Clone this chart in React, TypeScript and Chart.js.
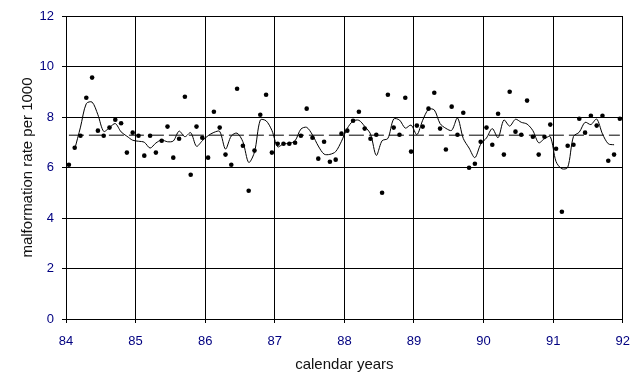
import React, { useEffect, useRef } from 'react';
import { Chart, registerables } from 'chart.js';

Chart.register(...registerables);

// ---- data ----
const START_YEAR = 84;
const END_YEAR = 92;
const X_TICK_LABELS = ['84', '85', '86', '87', '88', '89', '90', '91', '92'];
const Y_MIN = 0;
const Y_MAX = 12;
const Y_STEP = 2;

// monthly malformation rate per 1000, Jan 1984 .. Dec 1991
const MONTHLY_RATES = [
  6.11, 6.78, 7.26, 8.76, 9.56, 7.46, 7.26, 7.58, 7.89, 7.75, 6.59, 7.38,
  7.26, 6.47, 7.26, 6.59, 7.06, 7.62, 6.39, 7.14, 8.80, 5.71, 7.62, 7.18,
  6.39, 8.21, 7.58, 6.51, 6.11, 9.12, 6.86, 5.08, 6.67, 8.09, 8.88, 6.59,
  6.94, 6.94, 6.94, 6.98, 7.26, 8.33, 7.18, 6.35, 7.02, 6.23, 6.31, 7.34,
  7.46, 7.85, 8.21, 7.54, 7.14, 7.30, 5.00, 8.88, 7.58, 7.30, 8.76, 6.63,
  7.66, 7.62, 8.33, 8.96, 7.54, 6.71, 8.41, 7.30, 8.17, 5.99, 6.15, 7.02,
  7.58, 6.90, 8.13, 6.51, 9.00, 7.42, 7.30, 8.65, 7.22, 6.51, 7.22, 7.70,
  6.74, 4.25, 6.86, 6.90, 7.93, 7.38, 8.05, 7.66, 8.05, 6.27, 6.51, 7.93,
];

// smoothed curve (as drawn), same months; blank at both ends
const SMOOTHED_RATES = [
  null, 6.72, 7.60, 8.53, 8.59, 8.09, 7.43, 7.58, 7.74, 7.41, 7.24, 7.08,
  7.04, 7.00, 6.77, 6.97, 7.09, 7.02, 7.05, 7.44, 7.22, 7.38, 6.84, 7.06,
  7.26, 7.39, 7.43, 6.73, 7.25, 7.36, 7.02, 6.20, 6.61, 7.88, 7.85, 7.47,
  6.82, 6.94, 6.95, 7.06, 7.52, 7.59, 7.29, 6.85, 6.53, 6.52, 6.63, 7.04,
  7.55, 7.84, 7.87, 7.63, 7.33, 6.48, 7.06, 7.15, 7.92, 7.88, 7.56, 7.68,
  7.30, 7.87, 8.30, 8.28, 7.74, 7.55, 7.47, 7.96, 7.15, 6.77, 6.39, 6.92,
  7.17, 7.54, 7.18, 7.88, 7.64, 7.91, 7.79, 7.72, 7.46, 6.98, 7.14, 7.22,
  6.23, 5.95, 6.00, 7.23, 7.40, 7.79, 7.70, 7.92, 7.33, 6.94, 6.90, null,
];

const MEAN_RATE = 7.28;

const X_TITLE = 'calendar years';
const Y_TITLE = 'malformation rate per 1000';

// ---- helpers ----
const monthX = (k: number) => START_YEAR + (k + 0.5) / 12;

const FONT = 'Liberation Sans, Arial, sans-serif';

export default function App() {
  const ref = useRef<HTMLCanvasElement | null>(null);

  useEffect(() => {
    if (!ref.current) return;
    const pointData = MONTHLY_RATES.map((v, k) => ({ x: monthX(k), y: v }));
    const smoothData = SMOOTHED_RATES.map((v, k) => ({ x: monthX(k), y: v }));
    const meanData = [
      { x: monthX(0), y: MEAN_RATE },
      { x: monthX(MONTHLY_RATES.length - 1), y: MEAN_RATE },
    ];

    const chart = new Chart(ref.current, {
      type: 'line',
      data: {
        datasets: [
          {
            label: 'mean',
            data: meanData,
            borderColor: '#000',
            borderWidth: 1,
            borderDash: [15, 5],
            pointRadius: 0,
            fill: false,
          },
          {
            label: 'smoothed',
            data: smoothData as any,
            borderColor: '#000',
            borderWidth: 1,
            pointRadius: 0,
            tension: 0.3,
            fill: false,
            spanGaps: false,
          },
          {
            label: 'rate',
            data: pointData,
            showLine: false,
            pointRadius: 2.3,
            pointBackgroundColor: '#000',
            pointBorderColor: '#000',
            pointBorderWidth: 0,
            pointStyle: 'circle',
          },
        ],
      },
      options: {
        responsive: false,
        animation: false,
        devicePixelRatio: 1,
        layout: { padding: { top: 16, right: 14, left: 0, bottom: 0 } },
        plugins: {
          legend: { display: false },
          tooltip: { enabled: false },
        },
        scales: {
          x: {
            type: 'linear',
            min: START_YEAR,
            max: END_YEAR,
            grid: { color: '#000', lineWidth: 1, tickLength: 4, drawTicks: true },
            border: { display: true, color: '#000', width: 1 },
            ticks: {
              stepSize: 1,
              autoSkip: false,
              maxRotation: 0,
              color: '#000080',
              padding: 11,
              font: { family: FONT, size: 13 },
              callback: (v: any) => X_TICK_LABELS[Math.round(Number(v) - START_YEAR)],
            },
            title: {
              display: true,
              text: X_TITLE,
              color: '#111',
              font: { family: FONT, size: 15 },
              padding: { top: 0, bottom: 10 },
            },
            afterFit: (s: any) => {
              s.height = 65;
            },
          },
          y: {
            type: 'linear',
            min: Y_MIN,
            max: Y_MAX,
            grid: { color: '#000', lineWidth: 1, tickLength: 4, drawTicks: true },
            border: { display: true, color: '#000', width: 1 },
            ticks: {
              stepSize: Y_STEP,
              color: '#000080',
              padding: 8,
              font: { family: FONT, size: 13 },
            },
            title: {
              display: true,
              text: Y_TITLE,
              color: '#111',
              font: { family: FONT, size: 15 },
              padding: { top: 19, bottom: 0 },
            },
            afterFit: (s: any) => {
              s.width = 66;
            },
          },
        },
      },
    });
    return () => chart.destroy();
  }, []);

  return (
    <div style={{ position: 'absolute', left: 0, top: 0, width: 641, height: 384, background: '#fff' }}>
      <canvas ref={ref} width={641} height={384} style={{ width: 641, height: 384, display: 'block' }} />
    </div>
  );
}
